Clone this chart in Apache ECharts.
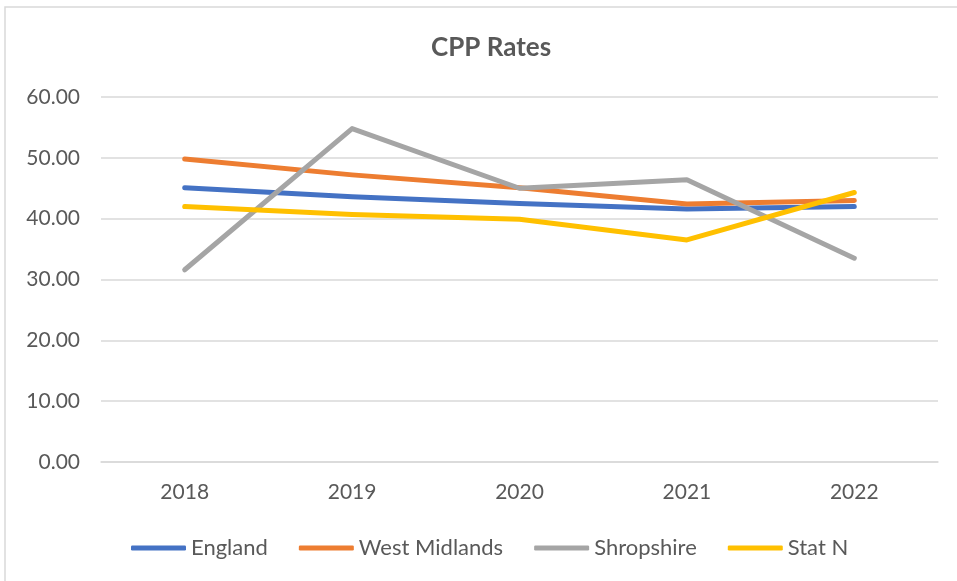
<!DOCTYPE html>
<html>
<head>
<meta charset="utf-8">
<script src="https://cdn.jsdelivr.net/npm/echarts@6/dist/echarts.min.js"></script>
<style>
  html, body { margin: 0; padding: 0; background: #fff; }
  #chart { width: 957px; height: 581px; }
</style>
</head>
<body>
<div id="chart"></div>
<script>
  // values
  const years = ['2018', '2019', '2020', '2021', '2022']
  const england = [45.1, 43.6, 42.5, 41.6, 42.0]
  const westMidlands = [49.8, 47.2, 45.1, 42.4, 43.0]
  const shropshire = [31.6, 54.8, 45.0, 46.4, 33.5]
  const statN = [42.0, 40.7, 39.9, 36.5, 44.3]

  const seriesList = [
    { name: 'England', data: england, color: '#4472C4' },
    { name: 'West Midlands', data: westMidlands, color: '#ED7D31' },
    { name: 'Shropshire', data: shropshire, color: '#A5A5A5' },
    { name: 'Stat N', data: statN, color: '#FFC000' }
  ]

  const textColor = '#595959'
  const gridColor = '#d9d9d9'
  const font = 'Lato, "Open Sans", sans-serif'

  const chart = echarts.init(document.getElementById('chart'))

  chart.setOption({
    animation: false,
    textStyle: { fontFamily: font },
    graphic: [{
      type: 'rect',
      shape: { x: 5, y: 7, width: 1000, height: 1000 },
      style: { fill: 'none', stroke: gridColor, lineWidth: 1.5 },
      silent: true
    }],
    title: {
      text: 'CPP Rates',
      left: 486,
      textAlign: 'center',
      top: 30,
      textStyle: { color: textColor, fontSize: 26, fontWeight: 'bold', fontFamily: font }
    },
    legend: {
      data: seriesList.map(s => s.name),
      top: 532,
      left: 126,
      icon: 'roundRect',
      itemWidth: 55,
      itemHeight: 5,
      itemGap: 31,
      textStyle: { color: textColor, fontSize: 22, fontFamily: font }
    },
    grid: { left: 101, right: 19, top: 97, bottom: 119 },
    xAxis: {
      type: 'category',
      data: years,
      boundaryGap: true,
      axisLine: { lineStyle: { color: gridColor, width: 1.5 } },
      axisTick: { show: false },
      axisLabel: { color: textColor, fontSize: 21, margin: 20, fontFamily: font }
    },
    yAxis: {
      type: 'value',
      min: 0,
      max: 60,
      interval: 10,
      axisLine: { show: false },
      axisTick: { show: false },
      axisLabel: {
        color: textColor,
        fontSize: 21,
        margin: 21,
        fontFamily: font,
        formatter: v => v.toFixed(2)
      },
      splitLine: { lineStyle: { color: gridColor, width: 1.5 } }
    },
    series: seriesList.map(s => ({
      name: s.name,
      type: 'line',
      data: s.data,
      color: s.color,
      showSymbol: false,
      symbol: 'none',
      lineStyle: { width: 5, color: s.color, cap: 'round', join: 'round' }
    }))
  })
</script>
</body>
</html>
